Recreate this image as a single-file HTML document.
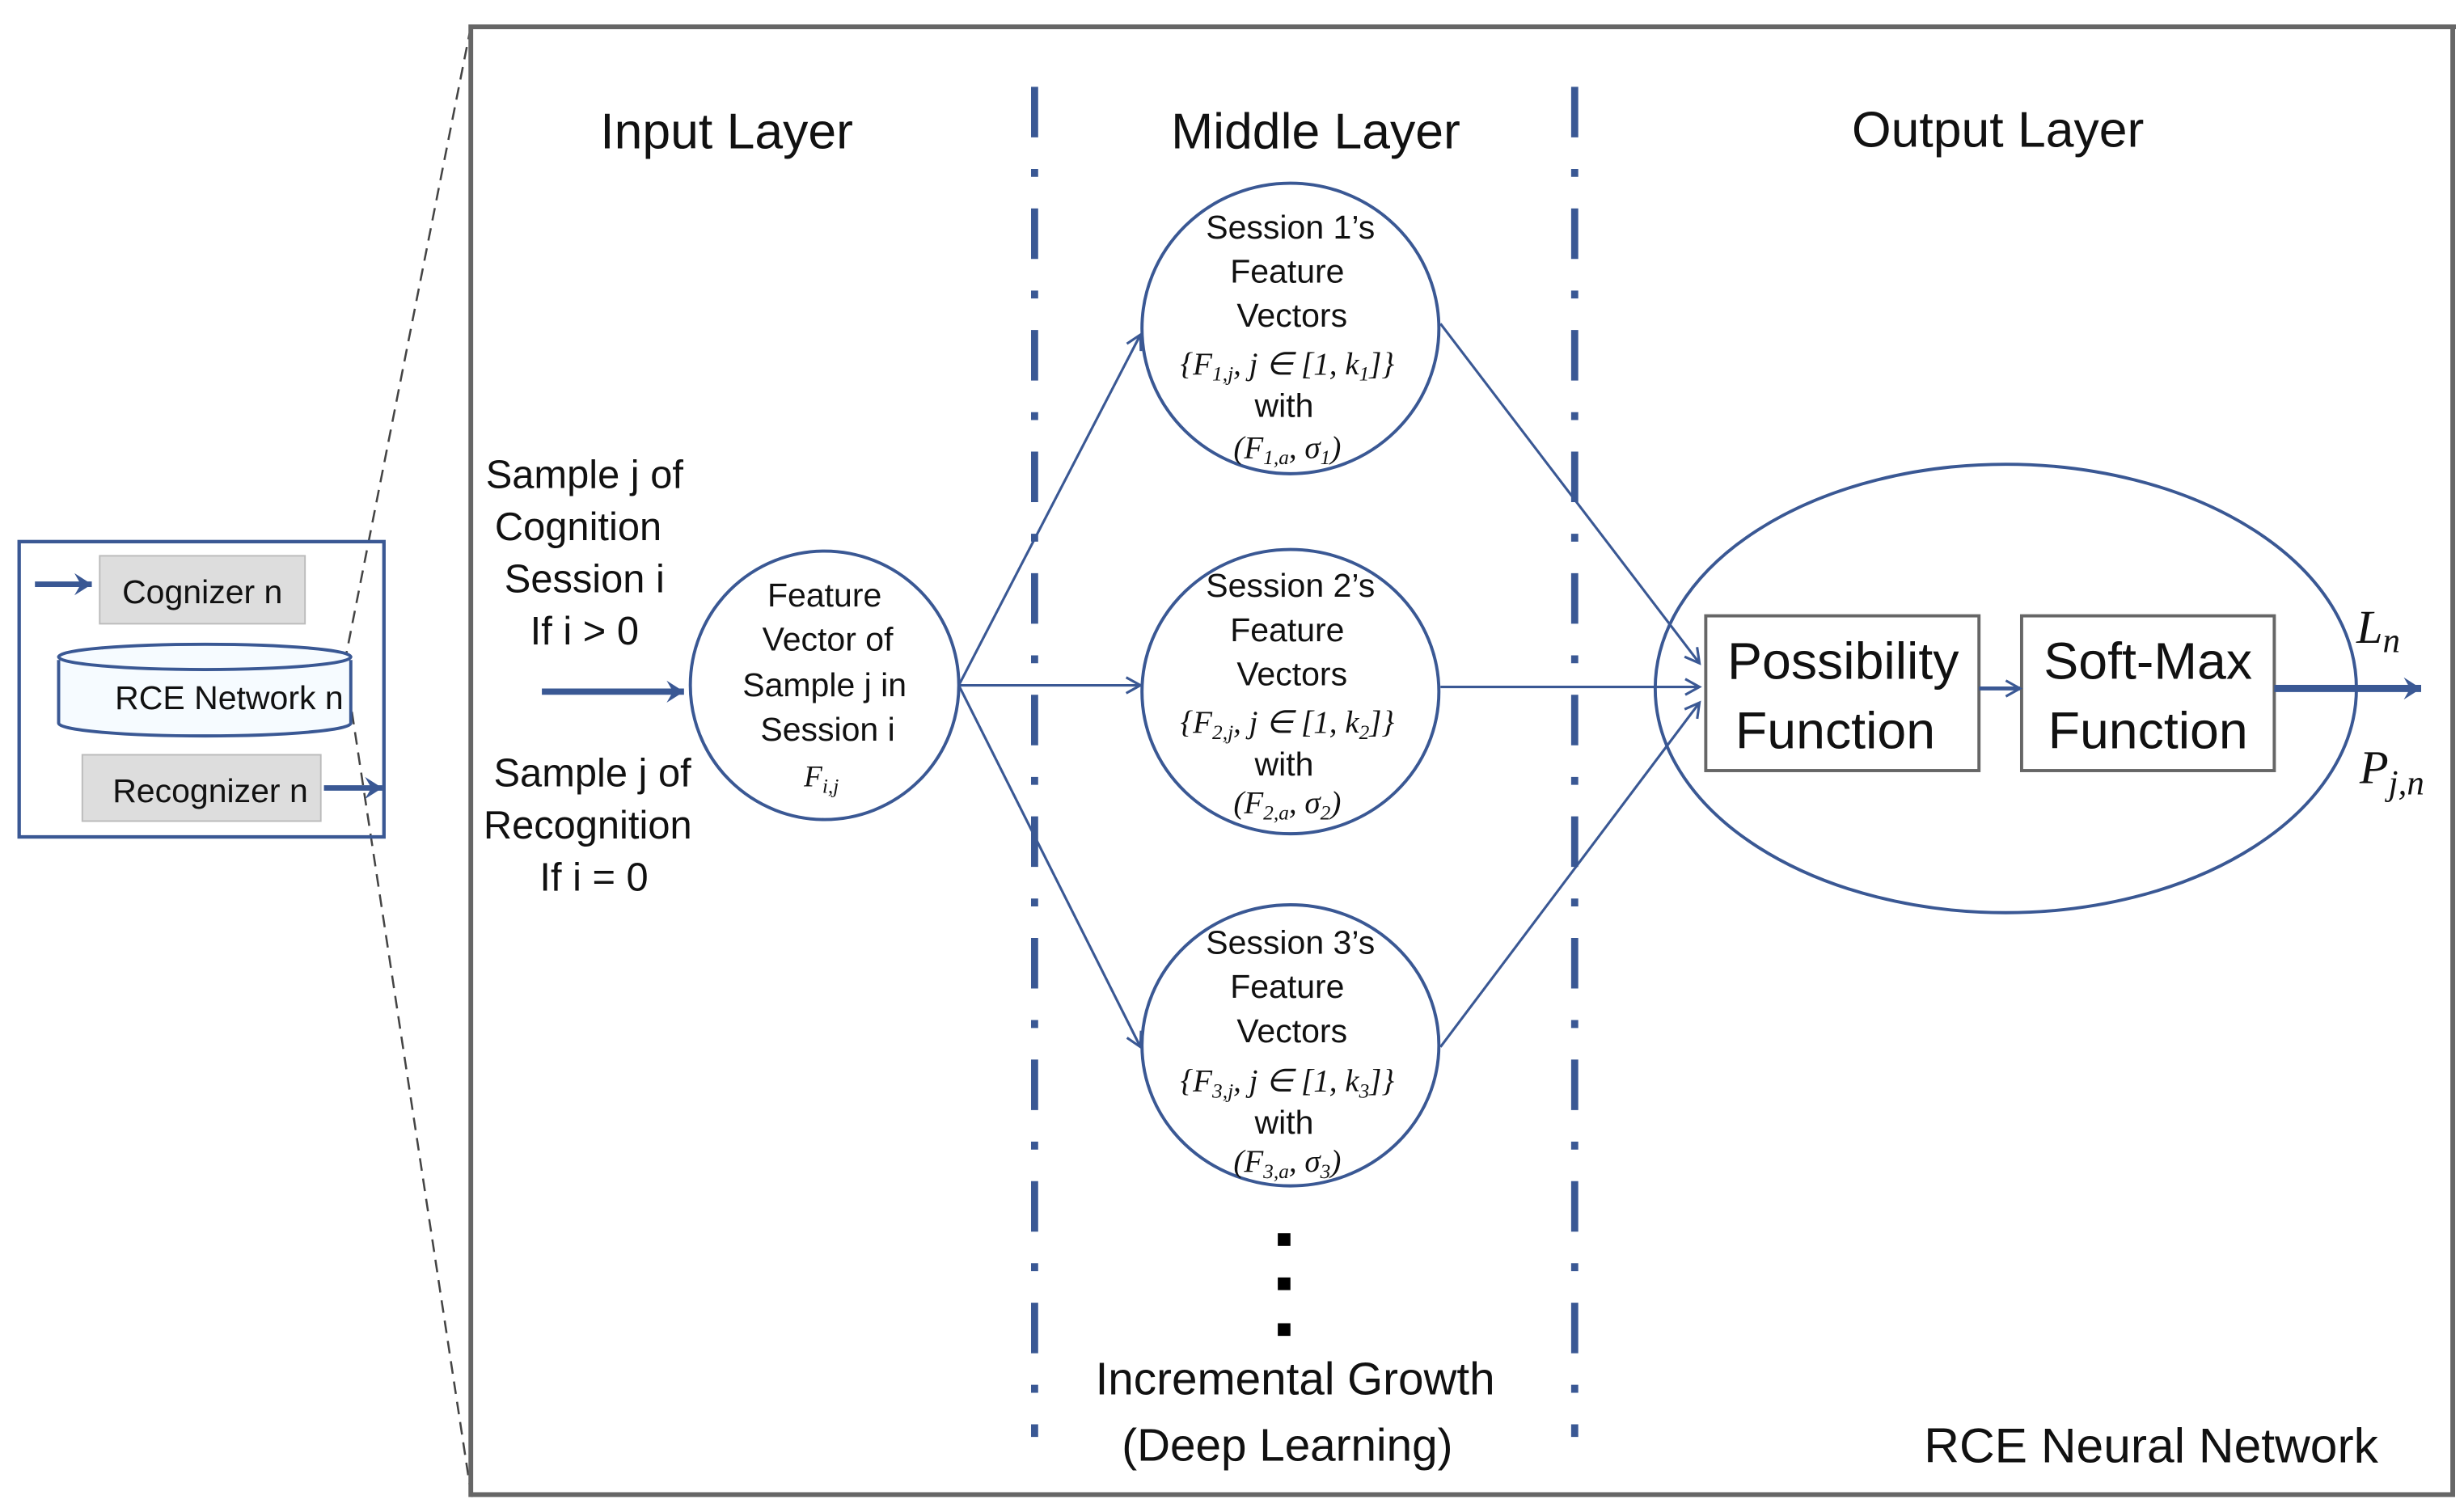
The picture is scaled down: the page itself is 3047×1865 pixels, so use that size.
<!DOCTYPE html>
<html><head><meta charset="utf-8"><style>
html,body{margin:0;padding:0;background:#fff;}
svg{display:block;}
text{font-family:"Liberation Sans",sans-serif;fill:#111;}
text.m,.m text{font-family:"Liberation Serif",serif;font-style:italic;}
</style></head><body>
<svg width="3047" height="1865" viewBox="0 0 1560 955" xmlns="http://www.w3.org/2000/svg">
<defs>
<marker id="oa" markerWidth="12" markerHeight="12" refX="10" refY="6" orient="auto" markerUnits="userSpaceOnUse">
<path d="M1,1 L10,6 L1,11" fill="none" stroke="#3a5894" stroke-width="1.6"/></marker>
<marker id="ta" markerWidth="16" markerHeight="16" refX="14" refY="8" orient="auto" markerUnits="userSpaceOnUse">
<path d="M3,1 L14,8 L3,15 L7,8 Z" fill="#3a5894"/></marker>
</defs>
<path d="M298,17 L218,420 L298,945" fill="none" stroke="#444" stroke-width="1.3" stroke-dasharray="8,5"/>
<rect x="12" y="343" width="231" height="187" fill="none" stroke="#3a5894" stroke-width="2.2"/>
<line x1="22" y1="370" x2="58" y2="370" stroke="#3a5894" stroke-width="3.5" marker-end="url(#ta)"/>
<rect x="63" y="352" width="130" height="43" fill="#ddd" stroke="#bbb"/>
<text x="128" y="382" font-size="21" text-anchor="middle">Cognizer n</text>
<path d="M37,418 L37,458 A92,8 0 0 0 222,458 L222,418" fill="#f6fbff" stroke="#3a5894" stroke-width="2"/>
<ellipse cx="129.5" cy="416" rx="92.5" ry="8" fill="#f6fbff" stroke="#3a5894" stroke-width="2"/>
<text x="145" y="449" font-size="21" text-anchor="middle">RCE Network n</text>
<rect x="52" y="478" width="151" height="42" fill="#ddd" stroke="#bbb"/>
<text x="133" y="508" font-size="21" text-anchor="middle">Recognizer n</text>
<line x1="205" y1="499" x2="242" y2="499" stroke="#3a5894" stroke-width="3.5" marker-end="url(#ta)"/>
<path d="M298,948 L298,17 L1555,17" fill="none" stroke="#666" stroke-width="3"/>
<path d="M298,946.5 L1553,946.5 L1553,17" fill="none" stroke="#666" stroke-width="3"/>
<line x1="655" y1="55" x2="655" y2="910" stroke="#3a5894" stroke-width="4.5" stroke-dasharray="32,20,5,20"/>
<line x1="997" y1="55" x2="997" y2="910" stroke="#3a5894" stroke-width="4.5" stroke-dasharray="32,20,5,20"/>
<text x="460" y="94" font-size="32" text-anchor="middle">Input Layer</text>
<text x="833" y="94" font-size="32" text-anchor="middle">Middle Layer</text>
<text x="1265" y="93" font-size="32" text-anchor="middle">Output Layer</text>
<g font-size="25" text-anchor="middle">
<text x="370" y="309">Sample j of</text>
<text x="366" y="342">Cognition</text>
<text x="370" y="375">Session i</text>
<text x="370" y="408">If i &gt; 0</text>
<text x="375" y="498">Sample j of</text>
<text x="372" y="531">Recognition</text>
<text x="376" y="564">If i = 0</text>
</g>
<line x1="343" y1="438" x2="433" y2="438" stroke="#3a5894" stroke-width="4" marker-end="url(#ta)"/>
<ellipse cx="522" cy="434" rx="85" ry="85" fill="#fff" stroke="#3a5894" stroke-width="2"/>
<g font-size="21" text-anchor="middle">
<text x="522" y="384">Feature</text>
<text x="524" y="412">Vector of</text>
<text x="522" y="441">Sample j in</text>
<text x="524" y="469">Session i</text>
</g>
<text x="520" y="498" font-size="19" class="m" text-anchor="middle">F<tspan font-size="13" dy="4">i,j</tspan></text>
<line x1="607" y1="434" x2="722" y2="212" stroke="#3a5894" stroke-width="1.6" marker-end="url(#oa)"/>
<line x1="607" y1="434" x2="722" y2="434" stroke="#3a5894" stroke-width="1.6" marker-end="url(#oa)"/>
<line x1="607" y1="434" x2="722" y2="663" stroke="#3a5894" stroke-width="1.6" marker-end="url(#oa)"/>
<g fill="#fff" stroke="#3a5894" stroke-width="2">
<ellipse cx="817" cy="208" rx="94" ry="92"/>
<ellipse cx="817" cy="438" rx="94" ry="90"/>
<ellipse cx="817" cy="662" rx="94" ry="89"/>
</g>
<g font-size="21" text-anchor="middle">
<text x="817" y="151">Session 1’s</text><text x="815" y="179">Feature</text><text x="818" y="207">Vectors</text><text x="813" y="264">with</text>
<text x="817" y="378">Session 2’s</text><text x="815" y="406">Feature</text><text x="818" y="434">Vectors</text><text x="813" y="491">with</text>
<text x="817" y="604">Session 3’s</text><text x="815" y="632">Feature</text><text x="818" y="660">Vectors</text><text x="813" y="718">with</text>
</g>
<g font-size="20" class="m" text-anchor="middle">
<text x="815" y="237">{F<tspan font-size="13" dy="4">1,j</tspan><tspan dy="-4">, j ∈ [1, k</tspan><tspan font-size="13" dy="4">1</tspan><tspan dy="-4">]}</tspan></text>
<text x="815" y="290">(F<tspan font-size="13" dy="4">1,a</tspan><tspan dy="-4">, σ</tspan><tspan font-size="13" dy="4">1</tspan><tspan dy="-4">)</tspan></text>
<text x="815" y="464">{F<tspan font-size="13" dy="4">2,j</tspan><tspan dy="-4">, j ∈ [1, k</tspan><tspan font-size="13" dy="4">2</tspan><tspan dy="-4">]}</tspan></text>
<text x="815" y="515">(F<tspan font-size="13" dy="4">2,a</tspan><tspan dy="-4">, σ</tspan><tspan font-size="13" dy="4">2</tspan><tspan dy="-4">)</tspan></text>
<text x="815" y="691">{F<tspan font-size="13" dy="4">3,j</tspan><tspan dy="-4">, j ∈ [1, k</tspan><tspan font-size="13" dy="4">3</tspan><tspan dy="-4">]}</tspan></text>
<text x="815" y="742">(F<tspan font-size="13" dy="4">3,a</tspan><tspan dy="-4">, σ</tspan><tspan font-size="13" dy="4">3</tspan><tspan dy="-4">)</tspan></text>
</g>
<rect x="809" y="781" width="8" height="8" fill="#000"/>
<rect x="809" y="809" width="8" height="8" fill="#000"/>
<rect x="809" y="838" width="8" height="8" fill="#000"/>
<text x="820" y="883" font-size="29" text-anchor="middle">Incremental Growth</text>
<text x="815" y="925" font-size="29" text-anchor="middle">(Deep Learning)</text>
<ellipse cx="1270" cy="436" rx="222" ry="142" fill="none" stroke="#3a5894" stroke-width="2"/>
<line x1="912" y1="205" x2="1076" y2="420" stroke="#3a5894" stroke-width="1.6" marker-end="url(#oa)"/>
<line x1="912" y1="435" x2="1076" y2="435" stroke="#3a5894" stroke-width="1.6" marker-end="url(#oa)"/>
<line x1="912" y1="663" x2="1076" y2="445" stroke="#3a5894" stroke-width="1.6" marker-end="url(#oa)"/>
<rect x="1080" y="390" width="173" height="98" fill="#fff" stroke="#666" stroke-width="2"/>
<rect x="1280" y="390" width="160" height="98" fill="#fff" stroke="#666" stroke-width="2"/>
<g font-size="33" text-anchor="middle">
<text x="1167" y="430">Possibility</text><text x="1162" y="474">Function</text>
<text x="1360" y="430">Soft-Max</text><text x="1360" y="474">Function</text>
</g>
<line x1="1253" y1="436" x2="1279" y2="436" stroke="#3a5894" stroke-width="2.5" marker-end="url(#oa)"/>
<line x1="1440" y1="436" x2="1533" y2="436" stroke="#3a5894" stroke-width="4.5" marker-end="url(#ta)"/>
<text x="1492" y="407" font-size="30" class="m">L<tspan font-size="22" dy="6">n</tspan></text>
<text x="1494" y="496" font-size="30" class="m">P<tspan font-size="22" dy="7">j,n</tspan></text>
<text x="1362" y="926" font-size="31" text-anchor="middle">RCE Neural Network</text>
</svg>
</body></html>
